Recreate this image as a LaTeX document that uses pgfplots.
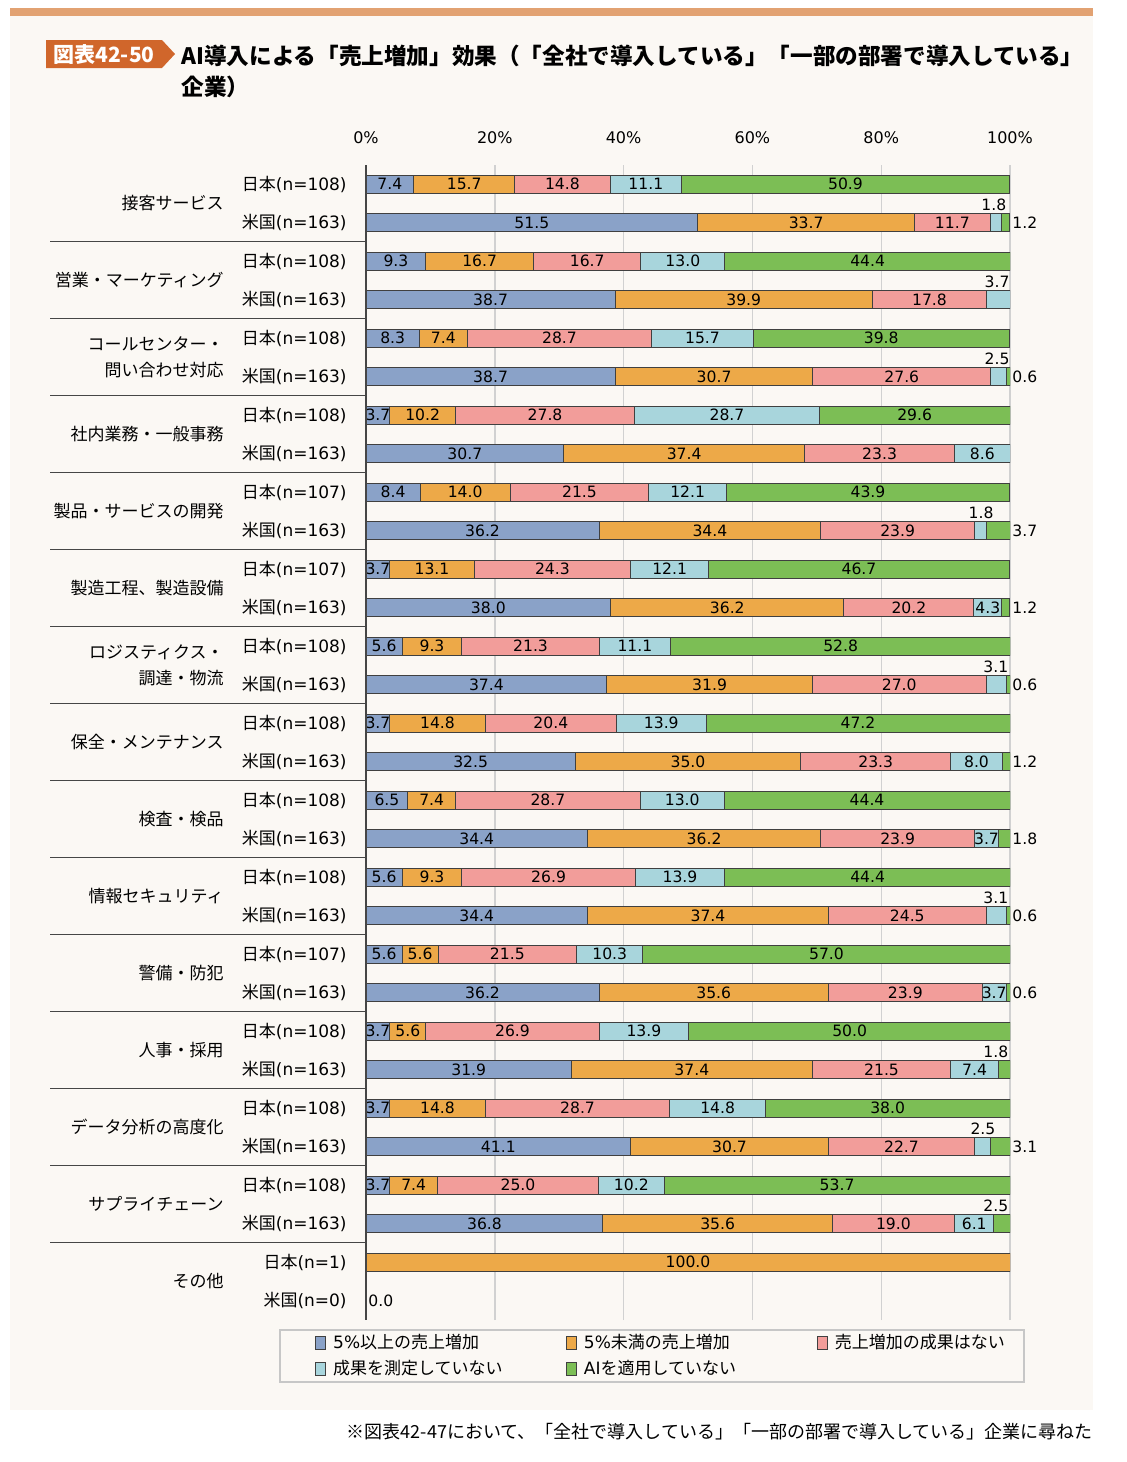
\documentclass[border=0pt]{standalone}
\usepackage{pgfplots}
\pgfplotsset{compat=1.18}
\usepackage{pgfplotstable}
\usepackage{fontspec}
\setmainfont{Noto Sans CJK JP}
\newfontfamily\dv{DejaVu Sans}
\definecolor{cA}{RGB}{138,162,200}
\definecolor{cB}{RGB}{237,169,72}
\definecolor{cC}{RGB}{242,157,154}
\definecolor{cD}{RGB}{168,213,220}
\definecolor{cE}{RGB}{124,190,85}
\definecolor{bgc}{RGB}{251,248,244}
\definecolor{topbar}{RGB}{226,162,114}
\definecolor{tagc}{RGB}{208,102,43}
\definecolor{sepc}{RGB}{70,70,70}
\newcommand\J[1]{日本{\dv(n=#1)}}
\newcommand\U[1]{米国{\dv(n=#1)}}

\pgfplotstableread{
row a b c d e
0 7.4 15.7 14.8 11.1 50.9
1 51.5 33.7 11.7 1.8 1.2
2 9.3 16.7 16.7 13.0 44.4
3 38.7 39.9 17.8 3.7 0
4 8.3 7.4 28.7 15.7 39.8
5 38.7 30.7 27.6 2.5 0.6
6 3.7 10.2 27.8 28.7 29.6
7 30.7 37.4 23.3 8.6 0
8 8.4 14.0 21.5 12.1 43.9
9 36.2 34.4 23.9 1.8 3.7
10 3.7 13.1 24.3 12.1 46.7
11 38.0 36.2 20.2 4.3 1.2
12 5.6 9.3 21.3 11.1 52.8
13 37.4 31.9 27.0 3.1 0.6
14 3.7 14.8 20.4 13.9 47.2
15 32.5 35.0 23.3 8.0 1.2
16 6.5 7.4 28.7 13.0 44.4
17 34.4 36.2 23.9 3.7 1.8
18 5.6 9.3 26.9 13.9 44.4
19 34.4 37.4 24.5 3.1 0.6
20 5.6 5.6 21.5 10.3 57.0
21 36.2 35.6 23.9 3.7 0.6
22 3.7 5.6 26.9 13.9 50.0
23 31.9 37.4 21.5 7.4 1.8
24 3.7 14.8 28.7 14.8 38.0
25 41.1 30.7 22.7 2.5 3.1
26 3.7 7.4 25.0 10.2 53.7
27 36.8 35.6 19.0 6.1 2.5
28 0 100.0 0 0 0
29 0 0 0 0 0
}\datatable

\pgfplotsset{
  base/.style={
    at={(183pt,-82.5pt)}, anchor=north west,
    scale only axis, width=322pt, height=577.5pt,
    xmin=0, xmax=100, ymin=-29.506, ymax=0.4935,
    axis line style={draw=none},
    major tick length=0pt,
  },
}

\begin{document}
\begin{tikzpicture}
\begin{scope}[x=0.5pt,y=-0.5pt]
\path[use as bounding box] (0,0) rectangle (1126,1462);
\fill[white] (0,0) rectangle (1126,1462);
\fill[bgc] (10,15) rectangle (1093,1410);
\fill[topbar] (10,8) rectangle (1093,16);
\fill[tagc] (46,40)--(162,40)--(175,54)--(162,68)--(46,68)--cycle;
\node[text=white, font=\bfseries\fontsize{10.5}{12}\selectfont, inner sep=0] at (104,54) {図表42-50};
\node[anchor=west, font=\bfseries\fontsize{11.3}{14}\selectfont, inner sep=0] at (181,56) {AI導入による「売上増加」効果（「全社で導入している」「一部の部署で導入している」};
\node[anchor=west, font=\bfseries\fontsize{11.3}{14}\selectfont, inner sep=0] at (181,87) {企業）};
\draw[black!22, line width=1pt] (280,1330) rectangle (1024,1382);
\node[anchor=east, font=\fontsize{9}{11}\selectfont, inner sep=0] at (1093,1432) {※図表42-47において、「全社で導入している」「一部の部署で導入している」企業に尋ねた};
\end{scope}

\begin{axis}[base,
  xbar stacked, bar width=9pt,
  xtick={0,20,40,60,80,100},
  xticklabels={0\%,20\%,40\%,60\%,80\%,100\%},
  xticklabel pos=upper,
  xticklabel style={font=\dv\fontsize{8}{9}\selectfont, anchor=south, inner sep=0pt, yshift=10.5pt},
  xmajorgrids, grid style={draw=black!18, line width=0.7pt},
  ytick={0,-1,...,-29},
  yticklabels={\J{108},\U{163},\J{108},\U{163},\J{108},\U{163},\J{108},\U{163},\J{107},\U{163},\J{107},\U{163},\J{108},\U{163},\J{108},\U{163},\J{108},\U{163},\J{108},\U{163},\J{107},\U{163},\J{108},\U{163},\J{108},\U{163},\J{108},\U{163},\J{1},\U{0}},
  yticklabel style={font=\fontsize{8.5}{10}\selectfont, anchor=east, inner sep=0pt, xshift=-9.5pt},
  legend image code/.code={\draw[#1, line width=0.4pt] (0pt,-3pt) rectangle (5pt,3.5pt);},
  legend style={at={(axis description cs:-0.0792,-0.0121)}, anchor=north west, draw=none, fill=none, inner sep=0pt,
    legend columns=3, row sep=4.5pt, font=\fontsize{8.5}{10}\selectfont,
    nodes={inner sep=0pt},
    /tikz/every odd column/.append style={column sep=3.5pt}},
]
\addplot[fill=cA, draw=black!75, line width=0.5pt] table[x=a, y expr=-\thisrow{row}] {\datatable};
\addlegendentry{\makebox[116.5pt][l]{{\dv 5\%}以上の売上増加}}
\addplot[fill=cB, draw=black!75, line width=0.5pt] table[x=b, y expr=-\thisrow{row}] {\datatable};
\addlegendentry{\makebox[116.5pt][l]{{\dv 5\%}未満の売上増加}}
\addplot[fill=cC, draw=black!75, line width=0.5pt] table[x=c, y expr=-\thisrow{row}] {\datatable};
\addlegendentry{\makebox[116.5pt][l]{売上増加の成果はない}}
\addplot[fill=cD, draw=black!75, line width=0.5pt] table[x=d, y expr=-\thisrow{row}] {\datatable};
\addlegendentry{\makebox[116.5pt][l]{成果を測定していない}}
\addplot[fill=cE, draw=black!75, line width=0.5pt] table[x=e, y expr=-\thisrow{row}] {\datatable};
\addlegendentry{\makebox[116.5pt][l]{{\dv AI}を適用していない}}
\end{axis}

\begin{axis}[base, clip=false,
  xtick=\empty,
  ytick={-0.5,-2.5,...,-28.5},
  yticklabels={接客サービス,営業・マーケティング,{コールセンター・\\問い合わせ対応},社内業務・一般事務,製品・サービスの開発,製造工程、製造設備,{ロジスティクス・\\調達・物流},保全・メンテナンス,検査・検品,情報セキュリティ,警備・防犯,人事・採用,データ分析の高度化,サプライチェーン,その他},
  yticklabel style={font=\fontsize{8.5}{13}\selectfont, align=right, anchor=east, inner sep=0pt, xshift=-71pt},
  nodes near coords, point meta=explicit symbolic,
  every node near coord/.append style={font=\dv\fontsize{7.8}{9}\selectfont, inner sep=0pt, anchor=center, text=black},
]
\addplot[only marks, mark=none] table[x expr={\thisrow{a}>0 ? \thisrow{a}/2 : nan}, y expr=-\thisrow{row}, meta=a] {\datatable};
\addplot[only marks, mark=none] table[x expr={\thisrow{b}>0 ? \thisrow{a}+\thisrow{b}/2 : nan}, y expr=-\thisrow{row}, meta=b] {\datatable};
\addplot[only marks, mark=none] table[x expr={\thisrow{c}>0 ? \thisrow{a}+\thisrow{b}+\thisrow{c}/2 : nan}, y expr=-\thisrow{row}, meta=c] {\datatable};
\addplot[only marks, mark=none] table[x expr={(\thisrow{d}>3.5) && (\thisrow{row}!=3) ? \thisrow{a}+\thisrow{b}+\thisrow{c}+\thisrow{d}/2 : nan}, y expr=-\thisrow{row}, meta=d] {\datatable};
\addplot[only marks, mark=none] table[x expr={\thisrow{e}>3.8 ? \thisrow{a}+\thisrow{b}+\thisrow{c}+\thisrow{d}+\thisrow{e}/2 : nan}, y expr=-\thisrow{row}, meta=e] {\datatable};
% labels above the bar end
\addplot[only marks, mark=none, every node near coord/.append style={yshift=9pt}] coordinates {
 (97.5,-1) [1.8] (98.0,-3) [3.7] (98.0,-5) [2.5] (95.5,-9) [1.8] (97.8,-13) [3.1]
 (97.8,-19) [3.1] (97.8,-23) [1.8] (95.8,-25) [2.5] (97.8,-27) [2.5]};
% labels right of the bar end
\addplot[only marks, mark=none, every node near coord/.append style={anchor=west, xshift=1pt}] coordinates {
 (100,-1) [1.2] (100,-5) [0.6] (100,-9) [3.7] (100,-11) [1.2] (100,-13) [0.6]
 (100,-15) [1.2] (100,-17) [1.8] (100,-19) [0.6] (100,-21) [0.6] (100,-25) [3.1]
 (0,-29) [0.0]};
\end{axis}

\begin{scope}[x=0.5pt,y=-0.5pt]
\foreach \k in {0,...,13} \draw[sepc, line width=0.6pt] (50,{241.75+77*\k}) -- (366,{241.75+77*\k});
\draw[sepc, line width=0.6pt] (366,165) -- (366,1320);
\end{scope}
\end{tikzpicture}
\end{document}
